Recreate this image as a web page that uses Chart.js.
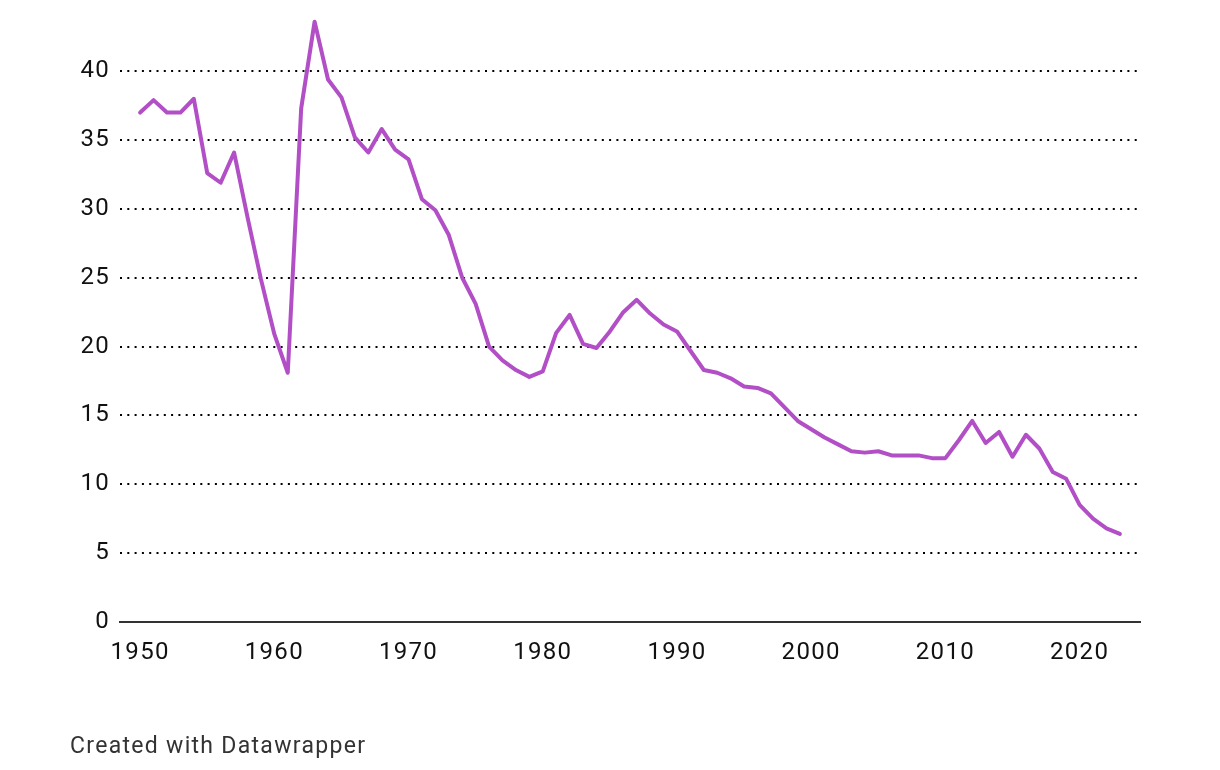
<!DOCTYPE html>
<html lang="en">
    <head>
        <meta charset="UTF-8">
        <title>Line chart</title>
        <script src="https://cdn.jsdelivr.net/npm/chart.js"></script>
        <style>
            html, body {
                margin: 0;
                padding: 0;
                background: #fff;
            }
            #wrap {
                position: relative;
                width: 1220px;
                height: 770px;
            }
            #credit {
                position: absolute;
                left: 70px;
                top: 732px;
                font-family: Roboto, sans-serif;
                font-size: 23px;
                letter-spacing: 1.3px;
                color: #333;
            }
        </style>
    </head>
    <body>
        <div id="wrap">
            <canvas id="chart" width="1220" height="770"></canvas>
            <div id="credit">Created with Datawrapper</div>
        </div>
        <script>
            const years = [
                1950, 1951, 1952, 1953, 1954, 1955, 1956, 1957, 1958, 1959,
                1960, 1961, 1962, 1963, 1964, 1965, 1966, 1967, 1968, 1969,
                1970, 1971, 1972, 1973, 1974, 1975, 1976, 1977, 1978, 1979,
                1980, 1981, 1982, 1983, 1984, 1985, 1986, 1987, 1988, 1989,
                1990, 1991, 1992, 1993, 1994, 1995, 1996, 1997, 1998, 1999,
                2000, 2001, 2002, 2003, 2004, 2005, 2006, 2007, 2008, 2009,
                2010, 2011, 2012, 2013, 2014, 2015, 2016, 2017, 2018, 2019,
                2020, 2021, 2022, 2023
            ];
            const values = [
                37.0, 37.9, 37.0, 37.0, 38.0, 32.6, 31.9, 34.1, 29.4, 24.9,
                20.9, 18.1, 37.3, 43.6, 39.4, 38.1, 35.2, 34.1, 35.8, 34.3,
                33.6, 30.7, 29.9, 28.1, 25.0, 23.1, 20.0, 19.0, 18.3, 17.8,
                18.2, 21.0, 22.3, 20.2, 19.9, 21.1, 22.5, 23.4, 22.4, 21.6,
                21.1, 19.7, 18.3, 18.1, 17.7, 17.1, 17.0, 16.6, 15.6, 14.6,
                14.0, 13.4, 12.9, 12.4, 12.3, 12.4, 12.1, 12.1, 12.1, 11.9,
                11.9, 13.2, 14.6, 13.0, 13.8, 12.0, 13.6, 12.6, 10.9, 10.4,
                8.5, 7.5, 6.8, 6.4
            ];
            const xTicks = [1950, 1960, 1970, 1980, 1990, 2000, 2010, 2020];
            const yTicks = [0, 5, 10, 15, 20, 25, 30, 35, 40];

            const points = years.map((y, i) => ({ x: y, y: values[i] }));

            // the reference text is a bit wider than plain Roboto
            const spacing = {
                id: 'spacing',
                beforeInit(chart) { chart.ctx.letterSpacing = '1.3px'; },
                beforeUpdate(chart) { chart.ctx.letterSpacing = '1.3px'; },
                beforeDraw(chart) { chart.ctx.letterSpacing = '1.3px'; }
            };

            new Chart(document.getElementById('chart'), {
                type: 'line',
                data: {
                    datasets: [{
                        data: points,
                        borderColor: '#b24fc6',
                        borderWidth: 4,
                        pointRadius: 0,
                        tension: 0,
                        clip: false,
                        borderJoinStyle: 'round',
                        borderCapStyle: 'round'
                    }]
                },
                options: {
                    responsive: false,
                    animation: false,
                    layout: {
                        padding: { top: 8, right: 80, bottom: 98, left: 0 }
                    },
                    plugins: {
                        legend: { display: false },
                        tooltip: { enabled: false }
                    },
                    scales: {
                        x: {
                            type: 'linear',
                            min: 1948.5,
                            max: 2024.5,
                            afterBuildTicks: s => { s.ticks = xTicks.map(v => ({ value: v })); },
                            afterFit: s => { s.height = 50; },
                            grid: { display: false, drawTicks: false },
                            border: { display: true, color: '#333', width: 2 },
                            ticks: {
                                padding: 17,
                                maxRotation: 0,
                                color: '#111',
                                font: { family: 'Roboto', size: 24 },
                                callback: v => String(v)
                            }
                        },
                        y: {
                            min: 0,
                            max: 43.4,
                            afterBuildTicks: s => { s.ticks = yTicks.map(v => ({ value: v })); },
                            afterFit: s => { s.width = 120; },
                            grid: {
                                color: ctx => ctx.tick && ctx.tick.value === 0 ? 'rgba(0,0,0,0)' : '#000',
                                lineWidth: 2,
                                drawTicks: false
                            },
                            border: { display: false, dash: [2, 5.3] },
                            ticks: {
                                padding: 10,
                                color: '#111',
                                font: { family: 'Roboto', size: 24 },
                                callback: v => String(v)
                            }
                        }
                    }
                },
                plugins: [spacing]
            });
        </script>
    </body>
</html>
